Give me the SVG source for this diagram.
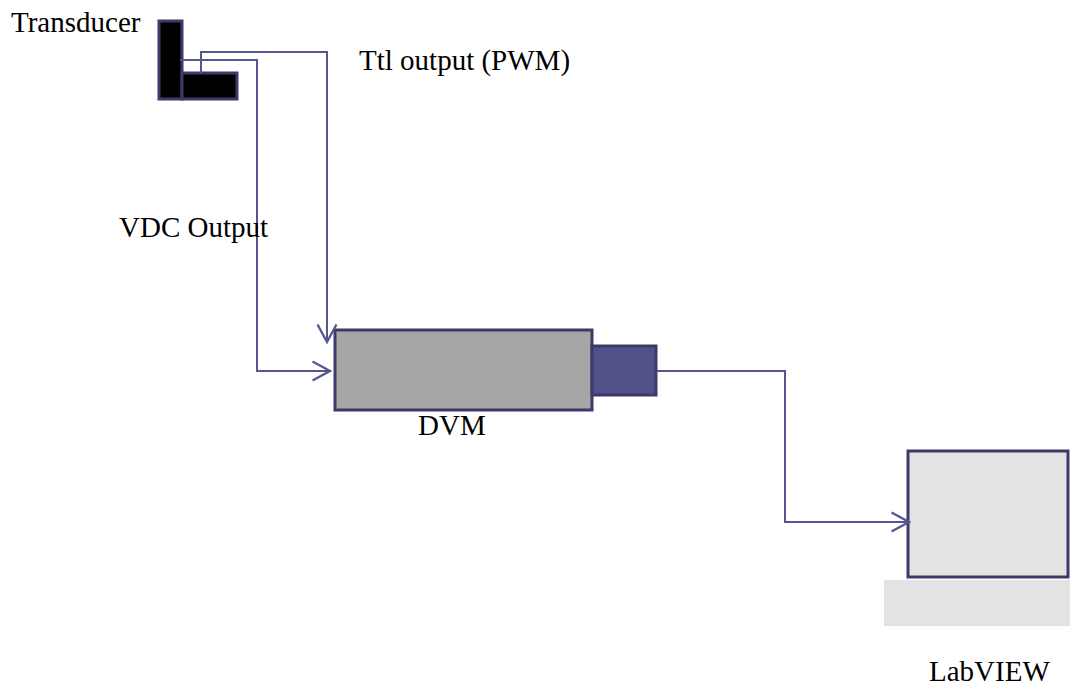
<svg xmlns="http://www.w3.org/2000/svg" width="1078" height="686" viewBox="0 0 1078 686">
<style>
.lbl{font-family:"Liberation Serif",serif;font-size:29px;fill:#000}
.box{stroke:#3c3a6a;stroke-width:3}
.wire{fill:none;stroke:#55558f;stroke-width:2}
</style>
<defs>
<marker id="arr" viewBox="0 0 20 22" refX="18.5" refY="11" markerWidth="20" markerHeight="22" markerUnits="userSpaceOnUse" orient="auto">
<path d="M1,1.5 L18.5,11 L1,20.5" fill="none" stroke="#55558f" stroke-width="2.3"/>
</marker>
</defs>
<rect width="1078" height="686" fill="#fff"/>
<g id="transducer">
<rect class="box" x="159" y="21" width="23" height="78" fill="#000"/>
<rect class="box" x="182" y="73" width="55" height="26" fill="#000"/>
<text class="lbl" x="11" y="32">Transducer</text>
</g>
<g id="dvm">
<rect class="box" x="335" y="330" width="257" height="80" fill="#a6a6a6"/>
<rect class="box" x="592" y="346" width="64" height="49" fill="#525088"/>
<text class="lbl" x="418" y="435">DVM</text>
</g>
<g id="labview">
<rect x="884" y="580" width="186" height="46" fill="#e3e3e3"/>
<rect class="box" x="908" y="451" width="160" height="126" fill="#e3e3e3"/>
<text class="lbl" x="929" y="681">LabVIEW</text>
</g>
<g id="connectors">
<polyline class="wire" points="180,60 257,60 257,371 330,371" marker-end="url(#arr)"/>
<polyline class="wire" points="201,73 201,52 327,52 327,342" marker-end="url(#arr)"/>
<polyline class="wire" points="657,371 785,371 785,522 909,522" marker-end="url(#arr)"/>
</g>
<g id="labels">
<text class="lbl" x="359" y="70">Ttl output (PWM)</text>
<text class="lbl" x="119" y="237">VDC Output</text>
</g>
</svg>
